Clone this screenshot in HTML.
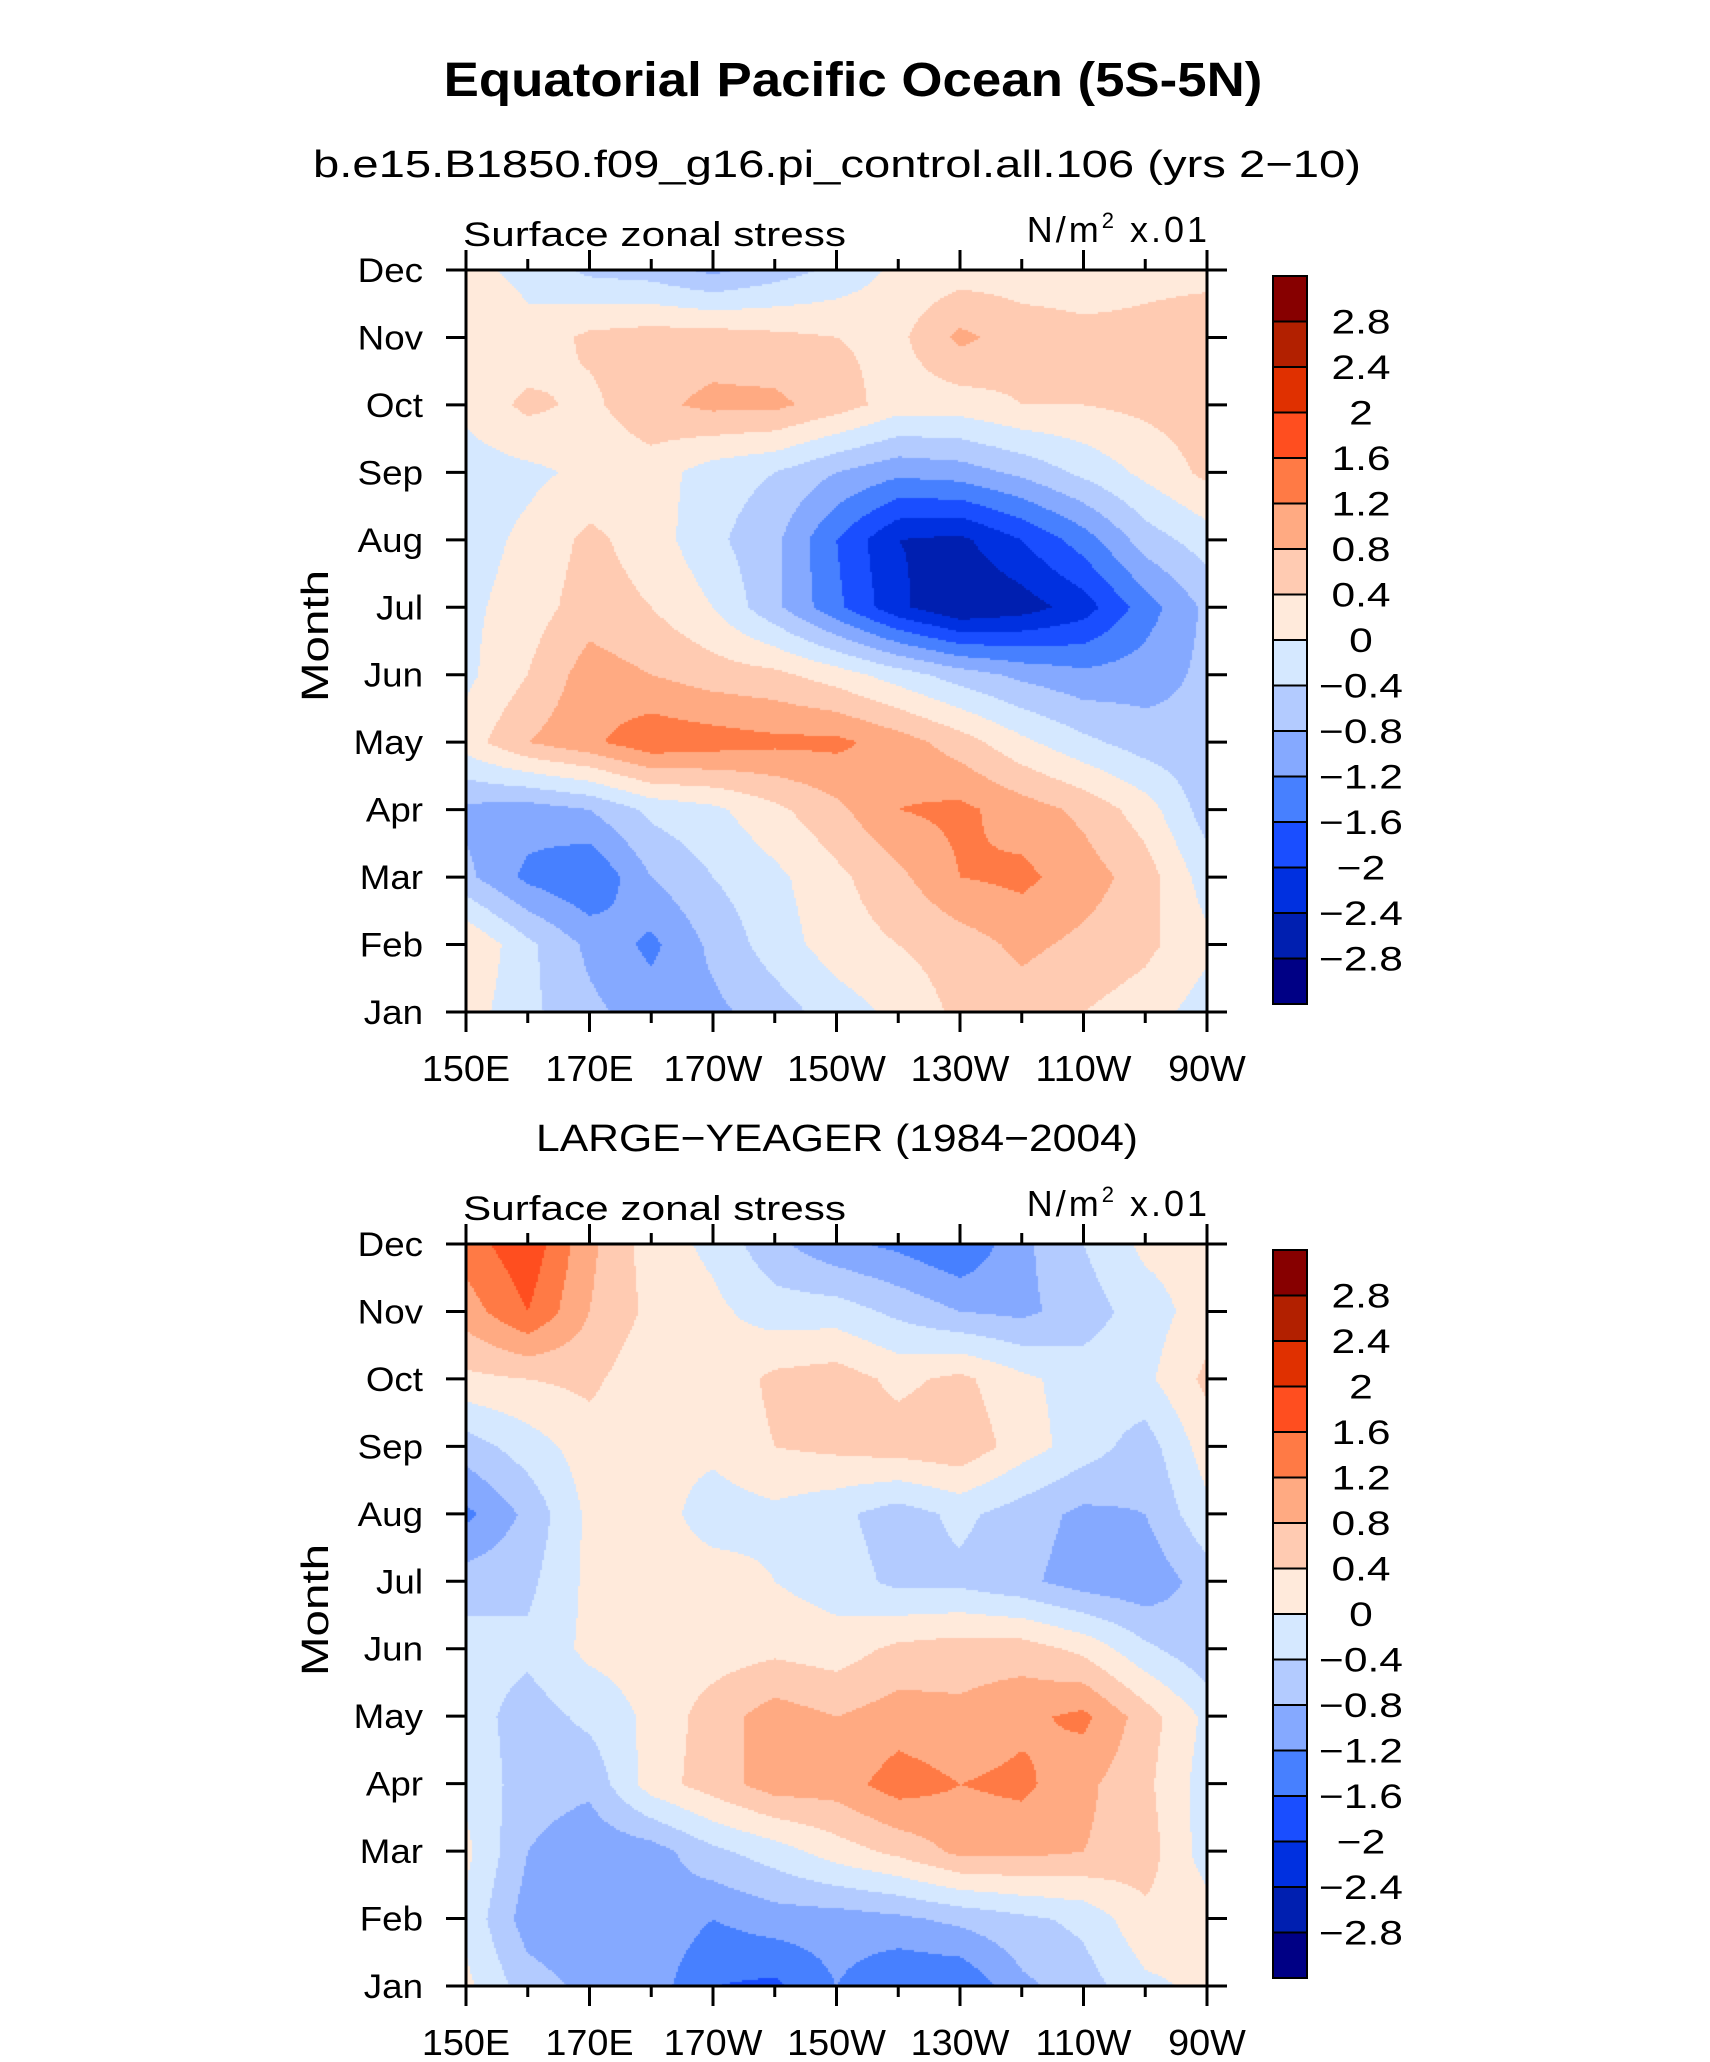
<!DOCTYPE html>
<html><head><meta charset="utf-8">
<style>
html,body{margin:0;padding:0;background:#fff;}
#wrap{position:relative;width:1710px;height:2062px;overflow:hidden;}
canvas{position:absolute;}
svg{position:absolute;left:0;top:0;}
text{font-family:"Liberation Sans",sans-serif;fill:#000;}
</style></head>
<body>
<div id="wrap">
<canvas id="c1" width="741" height="742" style="left:466px;top:270px;width:741px;height:742px"></canvas>
<canvas id="c2" width="741" height="743" style="left:466px;top:1244px;width:741px;height:743px"></canvas>
<svg id="ov" width="1710" height="2062"></svg>
</div>
<script>
const months = ["Jan","Feb","Mar","Apr","May","Jun","Jul","Aug","Sep","Oct","Nov","Dec"];
const lonLabels = ["150E","170E","170W","150W","130W","110W","90W"];
const levels = [-2.8,-2.4,-2,-1.6,-1.2,-0.8,-0.4,0,0.4,0.8,1.2,1.6,2,2.4,2.8];
const levelLabels = ["2.8","2.4","2","1.6","1.2","0.8","0.4","0","\u22120.4","\u22120.8","\u22121.2","\u22121.6","\u22122","\u22122.4","\u22122.8"];
const colors = ["#000085","#001fb0","#0030e0","#1a4eff","#4780ff","#85a9ff","#b3cbff","#d5e8ff","#ffeadb","#ffcbb2","#ffaa82","#ff7a45","#ff4e1f","#e03000","#b22000","#870000"];
// values per month (Jan..Dec), columns 150E..90W every 10 deg
const model = [
[0.2,-0.3,-0.7,-1.0,-0.9,-0.6,-0.2,0.1,0.5,0.6,0.4,0.2,-0.2],
[0.4,-0.3,-0.9,-1.3,-0.7,-0.2,0.2,0.4,0.6,0.9,0.7,0.5,0.1],
[-0.7,-1.3,-1.6,-0.8,-0.4,-0.1,0.3,0.7,1.2,1.3,1.0,0.6,-0.2],
[-0.9,-1.0,-0.8,-0.3,-0.1,0.3,0.7,1.2,1.3,1.0,0.7,0.2,-0.6],
[0.2,0.8,1.1,1.5,1.4,1.3,1.3,1.0,0.6,0.1,-0.3,-0.6,-0.7],
[-0.1,0.4,1.0,0.8,0.6,0.5,0.2,-0.2,-0.6,-0.9,-1.1,-1.0,-0.7],
[-0.1,0.2,0.6,0.4,0.0,-0.7,-1.5,-2.3,-2.8,-2.6,-2.2,-1.4,-0.7],
[-0.2,0.1,0.5,0.2,-0.3,-0.7,-1.6,-2.4,-2.5,-2.0,-1.4,-0.6,-0.2],
[-0.2,-0.1,0.1,0.2,-0.2,-0.4,-0.8,-1.1,-1.0,-0.7,-0.3,0.1,0.5],
[0.1,0.5,0.3,0.7,0.9,0.9,0.6,0.2,0.2,0.4,0.4,0.5,0.6],
[0.4,0.1,0.5,0.6,0.6,0.5,0.4,0.3,0.9,0.6,0.5,0.5,0.6],
[0.1,-0.1,-0.5,-0.6,-0.9,-0.6,-0.3,0.1,0.2,0.2,0.2,0.3,0.3]
];
const obs = [
[0.1,-0.6,-0.9,-1.0,-1.6,-1.7,-1.2,-1.6,-1.6,-0.9,-0.6,-0.1,0.1],
[-0.1,-1.0,-1.2,-0.9,-1.2,-1.0,-1.0,-0.9,-0.7,-0.5,-0.3,0.3,0.2],
[0.1,-0.8,-1.1,-1.0,-0.5,-0.2,0.2,0.5,0.9,0.9,0.8,0.6,-0.2],
[-0.1,-0.6,-0.7,0.2,0.6,1.0,1.0,1.4,1.2,1.3,0.9,0.5,-0.2],
[-0.2,-0.6,-0.3,0.1,0.6,1.0,0.8,1.0,0.9,1.1,1.3,0.6,-0.1],
[-0.2,-0.3,0.1,0.2,0.2,0.3,0.2,0.5,0.6,0.6,0.3,-0.3,-0.7],
[-0.6,-0.5,0.1,0.2,0.2,0.0,-0.2,-0.5,-0.5,-0.7,-1.0,-1.1,-0.6],
[-1.3,-0.7,0.1,0.2,-0.2,-0.1,-0.3,-0.6,-0.3,-0.6,-0.9,-0.8,-0.1],
[-0.6,-0.2,0.2,0.1,0.1,0.4,0.5,0.6,0.7,0.2,-0.2,-0.6,0.2],
[0.3,0.4,0.5,0.1,0.1,0.5,0.6,0.3,0.5,0.1,-0.2,-0.1,0.5],
[1.0,1.6,0.8,0.3,0.1,-0.2,-0.2,-0.5,-0.8,-0.9,-0.6,-0.2,0.2],
[1.4,1.9,0.9,0.2,-0.1,-0.7,-1.1,-1.3,-1.6,-0.9,-0.4,0.1,0.2]
];

function colorFor(v){let i=0;while(i<levels.length&&v>=levels[i])i++;return colors[i];}
function drawField(id,data){
  const cv=document.getElementById(id),ctx=cv.getContext('2d');
  const W=cv.width,H=cv.height,nx=data[0].length,ny=data.length,s=2;
  for(let py=0;py<H;py+=s){
    const fy=(H-py-s/2)/H*(ny-1);const j=Math.min(ny-2,Math.floor(fy));const ty=fy-j;
    for(let px=0;px<W;px+=s){
      const fx=(px+s/2)/W*(nx-1);const i=Math.min(nx-2,Math.floor(fx));const tx=fx-i;
      const v=(data[j][i]*(1-tx)+data[j][i+1]*tx)*(1-ty)+(data[j+1][i]*(1-tx)+data[j+1][i+1]*tx)*ty;
      ctx.fillStyle=colorFor(v);ctx.fillRect(px,py,s,s);
    }
  }
}
drawField('c1',model);
drawField('c2',obs);

const NS='http://www.w3.org/2000/svg';
const svg=document.getElementById('ov');
function el(tag,attrs,txt){const e=document.createElementNS(NS,tag);for(const k in attrs)e.setAttribute(k,attrs[k]);if(txt!==undefined)e.textContent=txt;svg.appendChild(e);return e;}
function widen(e,f){const w=e.getComputedTextLength();e.setAttribute('textLength',w*f);e.setAttribute('lengthAdjust','spacingAndGlyphs');}

let t=el('text',{x:853,y:96,'text-anchor':'middle','font-size':48,'font-weight':'bold'},'Equatorial Pacific Ocean (5S-5N)');


widen(t,1.1);

function panel(top,subtitle,prefix,subW){
  const L=466,R=1207,B=top+742,T=top;
  let s=el('text',{x:837,y:top-93,'text-anchor':'middle','font-size':38},subtitle);
  
  
  s.setAttribute('textLength',subW);s.setAttribute('lengthAdjust','spacingAndGlyphs');
  s=el('text',{x:L-3,y:top-24,'font-size':34,textLength:383,lengthAdjust:'spacingAndGlyphs'},'Surface zonal stress');
  
  
  s=el('text',{x:R+3,y:top-28,'text-anchor':'end','font-size':36,'letter-spacing':3});
  s.innerHTML='N/m<tspan dy="-14" font-size="22">2</tspan><tspan dy="14"> x.01</tspan>';
  
  
  let f=el('rect',{x:L,y:T,width:R-L,height:B-T,fill:'none',stroke:'#000','stroke-width':3});
  
  
  const dy=(B-T)/11;
  months.forEach((m,k)=>{
    const y=B-k*dy;
    el('line',{x1:L-20,x2:L,y1:y,y2:y,stroke:'#000','stroke-width':3});
    el('line',{x1:R,x2:R+20,y1:y,y2:y,stroke:'#000','stroke-width':3});
    const lt=el('text',{x:L-43,y:y+12,'text-anchor':'end','font-size':34},m);
    
    
    widen(lt,1.08);
  });
  const dx=(R-L)/12;
  for(let k=0;k<=12;k++){
    const x=L+k*dx,len=k%2===0?20:11;
    el('line',{x1:x,x2:x,y1:B,y2:B+len,stroke:'#000','stroke-width':3});
    el('line',{x1:x,x2:x,y1:T,y2:T-len,stroke:'#000','stroke-width':3});
  }
  lonLabels.forEach((lab,k)=>{
    const x=L+k*2*dx;
    const lt=el('text',{x:x,y:B+69,'text-anchor':'middle','font-size':36},lab);
    
    
    widen(lt,1.05);
  });
  const yl=el('text',{x:0,y:0,'text-anchor':'middle','font-size':38,transform:`translate(328 ${(T+B)/2-5}) rotate(-90)`},'Month');
  
  
  widen(yl,1.25);
  const cbT=T+6,cbB=B-8,h=(cbB-cbT)/colors.length;
  for(let k=0;k<colors.length;k++){
    const r=el('rect',{x:1273,y:cbB-(k+1)*h,width:34,height:h,fill:colors[k],stroke:'#000','stroke-width':2});
    
    
  }
  levelLabels.forEach((lab,k)=>{
    const y=cbT+(k+1)*h;
    const lt=el('text',{x:1361,y:y+12,'text-anchor':'middle','font-size':34},lab);
    
    
    widen(lt,1.25);
  });
}
panel(270,'b.e15.B1850.f09_g16.pi_control.all.106 (yrs 2\u221210)','model',1048);
panel(1244,'LARGE\u2212YEAGER (1984\u22122004)','obs',602);
</script>
</body></html>
